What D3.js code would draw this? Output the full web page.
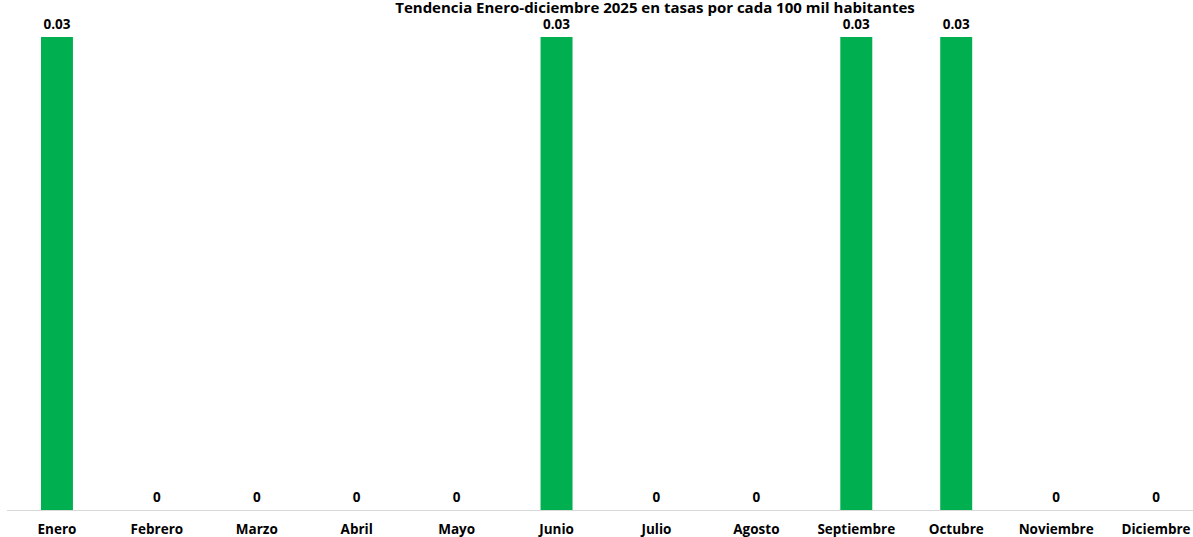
<!DOCTYPE html>
<html><head><meta charset="utf-8">
<script src="https://cdn.jsdelivr.net/npm/d3@7"></script>
<style>body{margin:0;background:#fff;}svg{display:block;}</style>
</head><body>
<script>
const categories = ["Enero","Febrero","Marzo","Abril","Mayo","Junio","Julio","Agosto","Septiembre","Octubre","Noviembre","Diciembre"];
const values = [0.03,0,0,0,0,0.03,0,0,0.03,0.03,0,0];
const valueLabels = ["0.03","0","0","0","0","0.03","0","0","0.03","0.03","0","0"];
const title = "Tendencia Enero-diciembre 2025 en tasas por cada  100 mil habitantes";

const W = 1193, H = 537;
const svg = d3.select("body").append("svg").attr("width", W).attr("height", H);
const font = "'Open Sans', Lato, sans-serif";

const x = d3.scaleBand().domain(categories).range([7, 1206]).paddingInner(0.68).paddingOuter(0.34);
const y = d3.scaleLinear().domain([0, 0.03]).range([510, 37]);

svg.append("text").attr("x", 655).attr("y", 13).attr("text-anchor", "middle")
  .attr("font-family", font).attr("font-weight", "bold").attr("font-size", 15).attr("fill", "#000").text(title);

svg.append("line").attr("x1", 7).attr("x2", 1193).attr("y1", 510.5).attr("y2", 510.5)
  .attr("stroke", "#d9d9d9").attr("stroke-width", 1);

svg.selectAll("rect.bar").data(values).enter().append("rect").attr("class", "bar")
  .attr("x", (d, i) => x(categories[i])).attr("width", x.bandwidth())
  .attr("y", d => y(d)).attr("height", d => y(0) - y(d)).attr("fill", "#00B050");

svg.selectAll("text.val").data(values).enter().append("text").attr("class", "val")
  .attr("x", (d, i) => x(categories[i]) + x.bandwidth() / 2)
  .attr("y", d => y(d) - 8).attr("text-anchor", "middle")
  .attr("font-family", font).attr("font-weight", "bold").attr("font-size", 13.5).attr("fill", "#000")
  .text((d, i) => valueLabels[i]);

const ax = svg.append("g").attr("transform", "translate(0,510)")
  .call(d3.axisBottom(x).tickSize(0).tickPadding(14));
ax.select(".domain").remove();
ax.selectAll("text").attr("font-family", font).attr("font-weight", "bold").attr("font-size", 13.5).attr("fill", "#000");
</script>
</body></html>
